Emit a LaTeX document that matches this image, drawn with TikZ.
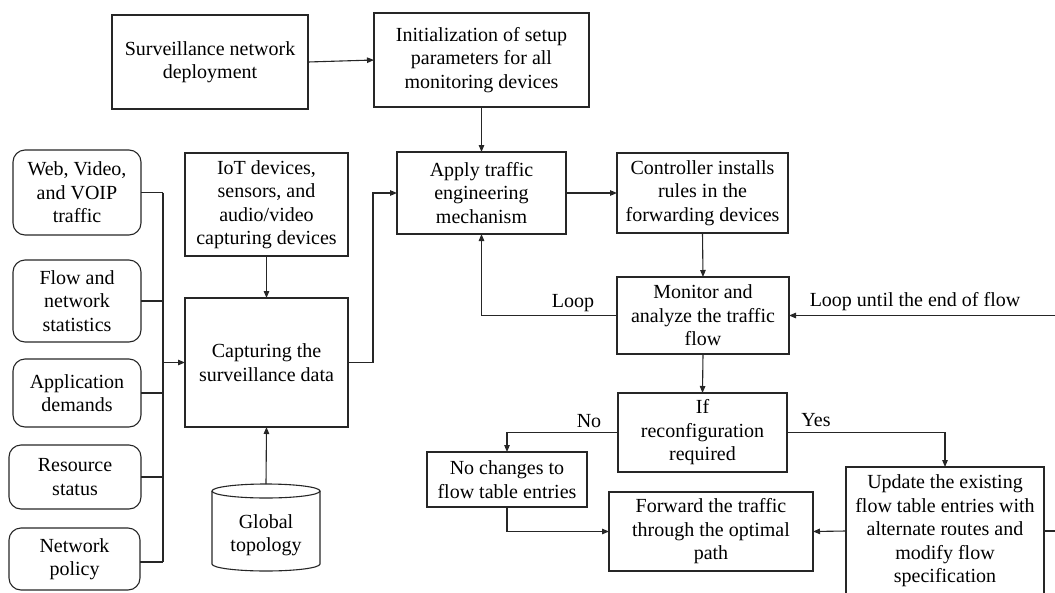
\documentclass[tikz,border=0pt]{standalone}
\usepackage{fontspec}
\setmainfont{Liberation Serif}
\usetikzlibrary{arrows.meta,calc}

\tikzset{
  box/.style={draw=black!85, line width=1.1pt, inner sep=0pt, outer sep=0pt,
    align=center, font=\fontsize{20}{23.5}\selectfont, text=black},
  rbox/.style={box, rounded corners=12pt},
  wire/.style={draw=black!85, line width=1.1pt},
  arr/.style={wire, -{Triangle[length=7pt,width=5.5pt]}},
  lbl/.style={inner sep=0pt, font=\fontsize{20}{23.5}\selectfont, text=black},
}

\begin{document}
\begin{tikzpicture}[x=1pt, y=-1pt]
\useasboundingbox (0,0) rectangle (1055,592);
\clip (0,0) rectangle (1055,592);

% top row
\node[box, minimum width=196, minimum height=94] (dep) at (210,62)
  {Surveillance network\\deployment};
\node[box, minimum width=215, minimum height=94] (init) at (481.5,60)
  {Initialization of setup\\parameters for all\\monitoring devices};

% main processing chain
\node[box, minimum width=169, minimum height=82] (apply) at (481.5,193)
  {Apply traffic\\engineering\\mechanism};
\node[box, minimum width=171, minimum height=80] (ctrl) at (702.5,193)
  {Controller installs\\rules in the\\forwarding devices};
\node[box, minimum width=172, minimum height=77] (mon) at (703,315.5)
  {Monitor and\\analyze the traffic\\flow};
\node[box, minimum width=169, minimum height=79] (cond) at (702.5,432.5)
  {If\\reconfiguration\\required};
\node[box, minimum width=160, minimum height=55] (nochg) at (507,479.5)
  {No changes to\\flow table entries};
\node[box, minimum width=204, minimum height=79] (fwd) at (711,531.5)
  {Forward the traffic\\through the optimal\\path};
\node[box, minimum width=198, minimum height=128] (upd) at (945,531)
  {Update the existing\\flow table entries with\\alternate routes and\\modify flow\\specification};

% input sources
\node[rbox, minimum width=128, minimum height=85] (web) at (77,192.5)
  {Web, Video,\\and VOIP\\traffic};
\node[rbox, minimum width=128, minimum height=82] (flw) at (77,301)
  {Flow and\\network\\statistics};
\node[rbox, minimum width=128, minimum height=68] (appd) at (77,393)
  {Application\\demands};
\node[rbox, minimum width=132, minimum height=64] (res) at (75,477)
  {Resource\\status};
\node[rbox, minimum width=131, minimum height=62] (pol) at (74.5,559)
  {Network\\policy};

\node[box, minimum width=163, minimum height=103] (iot) at (266.5,204.5)
  {IoT devices,\\sensors, and\\audio/video\\capturing devices};
\node[box, minimum width=163, minimum height=129] (cap) at (266.5,362.5)
  {Capturing the\\surveillance data};

% global topology database (cylinder)
\node[lbl, align=center] (topo) at (266,535) {Global\\topology};
\coordinate (topotop) at (266,484);
\draw[wire] (266,491) ellipse [x radius=54, y radius=7];
\draw[wire] (212,491) -- (212,564)
  arc[start angle=180, end angle=0, x radius=54, y radius=7] -- (320,491);

% connectors
\draw[arr] (dep.east) -- (init.west);
\draw[arr] (init.south) -- (apply.north);
\draw[arr] (apply.east) -- (ctrl.west);
\draw[arr] (ctrl.south) -- (mon.north);
\draw[arr] (mon.south) -- (cond.north);
\draw[arr] (mon.west) -| (apply.south);
\node[lbl] (looplbl) at (573,303) {Loop};

\coordinate (loopin) at (1060,315.5);
\draw[arr] (loopin) -- (mon.east);
\node[lbl] (untillbl) at (915,302) {Loop until the end of flow};

\draw[arr] (cond.west) -| (nochg.north);
\node[lbl] (nolbl) at (589,421) {No};
\draw[arr] (cond.east) -| (upd.north);
\node[lbl] (yeslbl) at (816,420) {Yes};

\draw[arr] (nochg.south) |- (fwd.west);
\draw[arr] (upd.west) -- (fwd.east);
\coordinate (loopout) at (1060,531);
\draw[wire] (upd.east) -- (loopout);

% collecting bus of the input sources
\coordinate (bustop) at (163,192.5);
\coordinate (busbot) at (163,562);
\draw[wire] (bustop) -- (busbot);
\draw[wire] (web.east) -- (web.east -| bustop);
\draw[wire] (flw.east) -- (flw.east -| bustop);
\draw[wire] (appd.east) -- (appd.east -| bustop);
\draw[wire] (res.east) -- (res.east -| bustop);
\draw[wire] (pol.east |- busbot) -- (busbot);
\draw[arr] (bustop |- cap.west) -- (cap.west);

\draw[arr] (iot.south) -- (cap.north);
\draw[arr] (topotop) -- (cap.south);
\draw[arr] (cap.east) -- ++(25,0) |- (apply.west);
\end{tikzpicture}
\end{document}
